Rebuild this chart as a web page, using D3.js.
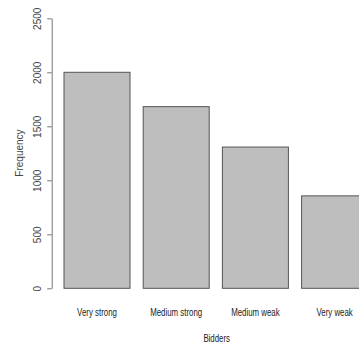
<!DOCTYPE html>
<html>
<head>
<meta charset="utf-8">
<script src="https://cdn.jsdelivr.net/npm/d3@7"></script>
<style>
  html, body { margin: 0; padding: 0; background: #fff; }
  svg { display: block; }
</style>
</head>
<body>
<svg id="chart" width="359" height="349"></svg>
<script>
// Bidder strength categories and their counts
const categories = ["Very strong", "Medium strong", "Medium weak", "Very weak"];
const frequencies = [2000, 1682, 1308, 856];
const yTicks = [0, 500, 1000, 1500, 2000, 2500];

const svg = d3.select("#chart");

const y = d3.scaleLinear().domain([0, 2500]).range([288.3, 18.3]);
const x = d3.scaleBand()
  .domain(categories)
  .range([64, 367.6])
  .paddingInner(1 / 6)
  .paddingOuter(0);

// condensed text: horizontal squeeze around the anchor point
const squeeze = 0.75;

// bars
svg.append("g")
  .selectAll("rect")
  .data(categories)
  .join("rect")
  .attr("x", d => x(d))
  .attr("y", (d, i) => y(frequencies[i]))
  .attr("width", x.bandwidth())
  .attr("height", (d, i) => y(0) - y(frequencies[i]))
  .attr("fill", "#bebebe")
  .attr("stroke", "#555")
  .attr("stroke-width", 1);

// y axis
const yAxis = d3.axisLeft(y).tickValues(yTicks).tickSize(4.5).tickSizeOuter(0).tickFormat(d3.format("d"));
const gy = svg.append("g").attr("transform", "translate(51.7,0)").call(yAxis);
gy.select(".domain").attr("stroke", "#777");
gy.selectAll(".tick line").attr("stroke", "#777");
gy.selectAll(".tick text")
  .attr("x", 0).attr("y", 0).attr("dy", "0.35em")
  .attr("text-anchor", "middle")
  .attr("transform", "translate(-14,0) rotate(-90)")
  .attr("fill", "#444")
  .style("font-family", "'Liberation Sans', Arial, sans-serif")
  .style("font-size", "10px");

// category labels
svg.append("g")
  .selectAll("text")
  .data(categories)
  .join("text")
  .attr("transform", d => `translate(${x(d) + x.bandwidth() / 2},315.5) scale(${squeeze},1)`)
  .attr("text-anchor", "middle")
  .attr("fill", "#222")
  .style("font-family", "'Liberation Sans', Arial, sans-serif")
  .style("font-size", "10.5px")
  .text(d => d);

// axis titles
svg.append("text")
  .attr("transform", `translate(216.7,342) scale(${squeeze},1)`)
  .attr("text-anchor", "middle")
  .attr("fill", "#222")
  .style("font-family", "'Liberation Sans', Arial, sans-serif")
  .style("font-size", "10.5px")
  .text("Bidders");

svg.append("text")
  .attr("transform", "translate(22.5,153) rotate(-90)")
  .attr("text-anchor", "middle")
  .attr("fill", "#444")
  .style("font-family", "'Liberation Sans', Arial, sans-serif")
  .style("font-size", "10px")
  .text("Frequency");
</script>
</body>
</html>
